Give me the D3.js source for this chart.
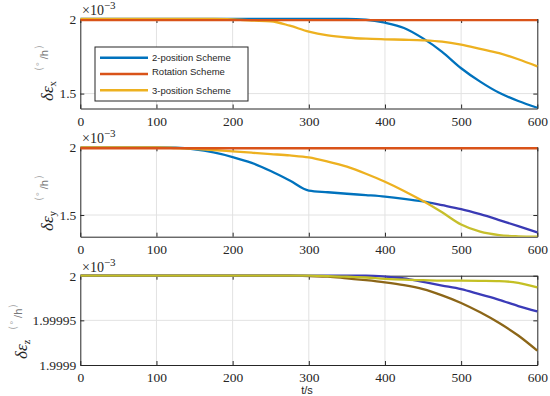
<!DOCTYPE html>
<html>
<head>
<meta charset="utf-8">
<script src="https://d3js.org/d3.v7.min.js"></script>
<style>
  body { margin: 0; background: #fff; }
  svg { display: block; }
</style>
</head>
<body>
<svg id="chart" width="550" height="396"></svg>
<script>
// time axis (s)
var time = d3.range(0, 601, 25);
var xTicks = [0, 100, 200, 300, 400, 500, 600];

// panel 1 : delta eps x (x10^-3 deg/h)
var ex2pos = [2, 2, 2, 2, 2, 2, 2, 2, 2, 2, 2, 2, 2, 2, 2, 1.995, 1.975, 1.94, 1.87, 1.78, 1.67, 1.58, 1.505, 1.45, 1.405];
var exRot = time.map(function () { return 1.992; });
var ex3pos = [2, 2, 2, 2, 2, 2, 2, 2, 1.997, 1.99, 1.985, 1.955, 1.915, 1.89, 1.876, 1.868, 1.864, 1.861, 1.857, 1.848, 1.828, 1.8, 1.771, 1.73, 1.682];

// panel 2 : delta eps y
var ey2pos = [2, 2, 2, 2, 2, 1.997, 1.985, 1.962, 1.928, 1.885, 1.825, 1.755, 1.68, 1.668, 1.657, 1.647, 1.636, 1.62, 1.6, 1.573, 1.544, 1.506, 1.463, 1.418, 1.372];
var eyRot = time.map(function () { return 1.993; });
var ey3pos = [2, 2, 2, 2, 2, 1.995, 1.988, 1.98, 1.97, 1.96, 1.95, 1.94, 1.926, 1.895, 1.857, 1.805, 1.746, 1.678, 1.603, 1.52, 1.43, 1.377, 1.352, 1.343, 1.34];

// panel 3 : delta eps z
var ez2pos = [2, 2, 2, 2, 2, 2, 2, 2, 2, 2, 2, 2, 2, 2, 2, 2, 1.999999, 1.999997, 1.999993, 1.999989, 1.999985, 1.999979, 1.999973, 1.999966, 1.99996];
var ez3pos = [2, 2, 2, 2, 2, 2, 2, 2, 2, 2, 2, 2, 2, 1.9999995, 1.999999, 1.999998, 1.9999965, 1.9999955, 1.999995, 1.9999945, 1.9999945, 1.9999943, 1.999994, 1.999992, 1.999987];
var ezRot = [2, 2, 2, 2, 2, 2, 2, 2, 2, 2, 2, 2, 1.9999995, 1.999999, 1.999997, 1.999995, 1.9999926, 1.9999895, 1.999985, 1.999978, 1.9999695, 1.999959, 1.999947, 1.999933, 1.999916];

var seriesNames = ["2-position Scheme", "Rotation Scheme", "3-position Scheme"];
var colors = ["#0072bd", "#d95319", "#edb120"];

var svg = d3.select("#chart");
var left = 80.3, right = 537.3;
var x = d3.scaleLinear().domain([0, 600]).range([left, right]);

var panels = [
  { top: 19, bottom: 108.5, domain: [1.4, 2], ticks: [1.5, 2], fmt: d3.format(""), sub: "x", lab: { x: 53, y: 101 },
    lines: [
      { v: ex2pos, c: colors[0] },
      { v: ex3pos, c: colors[2] },
      { v: exRot, c: colors[1] }
    ] },
  { top: 147.3, bottom: 236.7, domain: [1.34, 2], ticks: [1.5, 2], fmt: d3.format(""), sub: "y", lab: { x: 53, y: 231 },
    lines: [
      { v: ey2pos, c: colors[0], c2: "#3a3ab4", split: 455 },
      { v: ey3pos, c: colors[2], c2: "#c6bf2c", split: 455 },
      { v: eyRot, c: colors[1] }
    ] },
  { top: 275.7, bottom: 365, domain: [1.9999, 2], ticks: [1.9999, 1.99995, 2], fmt: function (d) { return d === 2 ? "2" : String(d); }, sub: "z", lab: { x: 27, y: 359 },
    lines: [
      { v: ezRot, c: "#8c6618" },
      { v: ez2pos, c: "#3b3bb8" },
      { v: ez3pos, c: "#c4c024" }
    ] }
];

var defs = svg.append("defs");

panels.forEach(function (p, pi) {
  var y = d3.scaleLinear().domain(p.domain).range([p.bottom, p.top]);
  var g = svg.append("g");

  defs.append("clipPath").attr("id", "clip" + pi)
    .append("rect").attr("x", left).attr("y", p.top - 3).attr("width", right - left + 1).attr("height", p.bottom - p.top + 3);

  // grid
  g.selectAll(".vg").data(xTicks.slice(1, -1)).enter().append("line")
    .attr("x1", function (d) { return x(d); }).attr("x2", function (d) { return x(d); })
    .attr("y1", p.top).attr("y2", p.bottom)
    .attr("stroke", "#e2e2e2").attr("stroke-width", 1);
  g.selectAll(".hg").data(p.ticks.filter(function (d) { return d !== p.domain[0] && d !== p.domain[1]; })).enter().append("line")
    .attr("x1", left).attr("x2", right)
    .attr("y1", function (d) { return y(d); }).attr("y2", function (d) { return y(d); })
    .attr("stroke", "#e2e2e2").attr("stroke-width", 1);

  // axes
  var xa = g.append("g").attr("transform", "translate(0," + p.bottom + ")")
    .call(d3.axisBottom(x).tickValues(xTicks).tickSizeInner(-4).tickSizeOuter(0).tickPadding(6));
  var xt = g.append("g").attr("transform", "translate(0," + p.top + ")")
    .call(d3.axisTop(x).tickValues(xTicks).tickSizeInner(-4).tickSizeOuter(0).tickFormat(""));
  var ya = g.append("g").attr("transform", "translate(" + left + ",0)")
    .call(d3.axisLeft(y).tickValues(p.ticks).tickFormat(p.fmt).tickSizeInner(-4).tickSizeOuter(0).tickPadding(4));
  var yr = g.append("g").attr("transform", "translate(" + right + ",0)")
    .call(d3.axisRight(y).tickValues(p.ticks).tickSizeInner(-4).tickSizeOuter(0).tickFormat(""));
  [xa, xt, ya, yr].forEach(function (a) {
    a.select(".domain").attr("stroke", "#262626");
    a.selectAll(".tick line").attr("stroke", "#262626");
    a.selectAll(".tick text").attr("fill", "#262626")
      .style("font-family", "'Liberation Serif', 'DejaVu Serif', serif").style("font-size", "13.5px");
  });
  xa.selectAll(".tick text").attr("dy", "0.85em");

  // lines
  var line = d3.line()
    .x(function (d, i) { return x(time[i]); })
    .y(function (d) { return y(d); })
    .curve(d3.curveMonotoneX);
  var lg = g.append("g").attr("clip-path", "url(#clip" + pi + ")");
  p.lines.forEach(function (s, si) {
    var stroke = s.c;
    if (s.c2) {
      var gid = "grad" + pi + "_" + si;
      var gr = defs.append("linearGradient").attr("id", gid)
        .attr("gradientUnits", "userSpaceOnUse")
        .attr("x1", x(0)).attr("x2", x(600)).attr("y1", 0).attr("y2", 0);
      var off = s.split / 600;
      gr.append("stop").attr("offset", 0).attr("stop-color", s.c);
      gr.append("stop").attr("offset", off).attr("stop-color", s.c);
      gr.append("stop").attr("offset", off + 0.02).attr("stop-color", s.c2);
      gr.append("stop").attr("offset", 1).attr("stop-color", s.c2);
      stroke = "url(#" + gid + ")";
    }
    lg.append("path").datum(s.v)
      .attr("d", line)
      .attr("fill", "none")
      .attr("stroke", stroke)
      .attr("stroke-width", 2.3);
  });

  // x10^-3 exponent
  var ex = g.append("text").attr("x", 82).attr("y", p.top - 4)
    .style("font-family", "'Liberation Serif', 'DejaVu Serif', serif").style("font-size", "14px").attr("fill", "#262626");
  ex.append("tspan").text("×10");
  ex.append("tspan").attr("dy", -6).style("font-size", "11px").text("−3");

  // y label
  var yl = g.append("text")
    .attr("transform", "translate(" + p.lab.x + "," + p.lab.y + ") rotate(-90)")
    .style("font-family", "'Liberation Serif', 'DejaVu Serif', serif").attr("fill", "#262626");
  yl.append("tspan").style("font-size", "17px").style("font-style", "italic").text("δε");
  yl.append("tspan").attr("dy", 3).style("font-size", "11px").text(p.sub);
  yl.append("tspan").attr("dx", 4).attr("dy", -14).attr("fill", "#9a9a9a").style("font-size", "11px").text("（");
  yl.append("tspan").attr("dy", 0).attr("fill", "#9a9a9a").style("font-size", "9px").text("°");
  yl.append("tspan").attr("dx", 3).attr("dy", 6).attr("fill", "#777").style("font-size", "11px").style("font-family", "'Liberation Sans', sans-serif").text("/h");
  yl.append("tspan").attr("dy", -6).attr("fill", "#9a9a9a").style("font-size", "11px").text("）");
});

// legend
var leg = svg.append("g");
leg.append("rect").attr("x", 95).attr("y", 47).attr("width", 153).attr("height", 54)
  .attr("fill", "#fff").attr("stroke", "#262626").attr("stroke-width", 1);
var legY = [57.7, 74, 90.3];
seriesNames.forEach(function (n, i) {
  leg.append("line").attr("x1", 100).attr("x2", 148).attr("y1", legY[i]).attr("y2", legY[i])
    .attr("stroke", colors[i]).attr("stroke-width", 2.5);
  leg.append("text").attr("x", 152).attr("y", legY[i] + (i === 1 ? 0.5 : 3.5))
    .style("font-family", "'Liberation Sans', Arial, sans-serif").style("font-size", "9.5px")
    .attr("fill", "#262626").text(n);
});

// x label
svg.append("text").attr("x", 307).attr("y", 394).attr("text-anchor", "middle")
  .style("font-family", "'Liberation Sans', Arial, sans-serif").style("font-size", "11px")
  .attr("fill", "#262626").text("t/s");
</script>
</body>
</html>
